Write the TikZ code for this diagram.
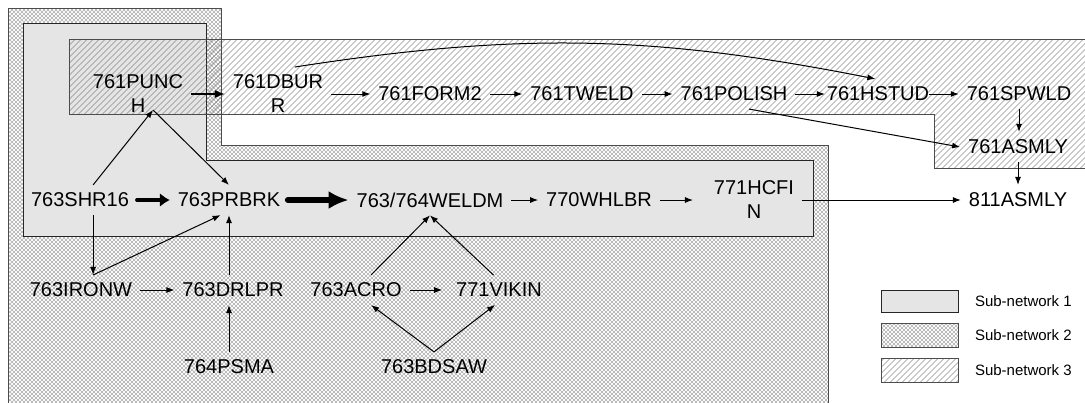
\documentclass[tikz,border=0pt]{standalone}
\usepackage{fontspec}
\setmainfont{Liberation Sans}
\usetikzlibrary{arrows.meta,patterns.meta}
\begin{document}
\begin{tikzpicture}[x=0.5pt,y=-0.5pt,
  font=\fontsize{10}{12}\selectfont,
  every node/.style={inner sep=2pt,outer sep=2pt},
  link/.style={-{Latex[length=4pt,width=3pt]},line width=0.5pt},
  boldlink/.style={-{Latex[length=5pt,width=4pt]},line width=0.8pt},
  heavylink/.style={-{Latex[length=5pt,width=7pt]},line width=1.8pt,line cap=round},
  hugelink/.style={-{Latex[length=10pt,width=9pt]},line width=3.3pt,line cap=round},
  net1/.style={draw=black!85,fill=black!10,line width=0.5pt},
  net2/.style={draw=black!70,line width=0.5pt,pattern={Hatch[angle=45,distance=1.4142pt,line width=0.2pt]},pattern color=black!32},
  net3/.style={draw=black!70,line width=0.5pt,pattern={Lines[angle=45,distance=2.1213pt,line width=0.3pt]},pattern color=black!60},
  legend/.style={right,font=\fontsize{7.5}{9}\selectfont}]
\useasboundingbox (0,0) rectangle (1085,402);
\draw [net2] (8,8) -- (221,8) -- (221,145) -- (828,145) -- (828,404) -- (8,404) -- cycle;
\draw [net1] (23,23) -- (206,23) -- (206,160) -- (813,160) -- (813,236) -- (23,236) -- cycle;
\draw [net3] (69,39) -- (1087,39) -- (1087,168) -- (934,168) -- (934,114) -- (69,114) -- cycle;

\node (punch) at (138,94) [align=center] {761PUNC\\H};
\node (dburr) at (278,94) [align=center] {761DBUR\\R};
\node (form) at (430,94) {761FORM2};
\node (tweld) at (582,94) {761TWELD};
\node (polish) at (734,94) {761POLISH};
\node (hstud) at (878,94) {761HSTUD};
\node (spwld) at (1019,94) {761SPWLD};
\node (asmly) at (1018,147) {761ASMLY};
\node (asm811) at (1018,200) {811ASMLY};
\node (shr) at (80,200) {763SHR16};
\node (prbrk) at (229,200) {763PRBRK};
\node (weldm) at (430,200) {763/764WELDM};
\node (whlbr) at (599,200) {770WHLBR};
\node (hcfin) at (754,200) [align=center] {771HCFI\\N};
\node (ironw) at (81,290) {763IRONW};
\node (drlpr) at (233,290) {763DRLPR};
\node (acro) at (356,290) {763ACRO};
\node (vikin) at (499,290) {771VIKIN};
\node (psma) at (229,367) {764PSMA};
\node (bdsaw) at (434,367) {763BDSAW};

\draw [boldlink] (punch) -- (dburr);
\draw [link] (dburr) -- (form);
\draw [link] (form) -- (tweld);
\draw [link] (tweld) -- (polish);
\draw [link, shorten >=-3pt] (polish) -- (hstud);
\draw [link, shorten <=-4pt] (hstud) -- (spwld);
\draw [link] (dburr.58) to [bend left=10] (hstud.100);
\draw [link] (polish.-45) -- (asmly.west);
\draw [link] (spwld.south) -- (spwld.south |- asmly.north);
\draw [link] (asmly.south) -- (asmly.south |- asm811.north);
\draw [link] (hcfin) -- (asm811);
\draw [heavylink] (shr) -- (prbrk);
\draw [hugelink] (prbrk) -- (weldm);
\draw [link] (weldm) -- (whlbr);
\draw [link, shorten >=6.5pt] (whlbr) -- (hcfin);
\draw [link] (shr.49) -- ([xshift=7.5pt,yshift=5.5pt]punch.south);
\draw [link] ([xshift=7.5pt,yshift=5.5pt]punch.south) -- (prbrk.north);
\draw [link] (shr.-49) -- (shr.-49 |- ironw.north);
\draw [link] (ironw.51) -- (prbrk.-119);
\draw [link] (ironw) -- (drlpr);
\draw [link] (drlpr.north -| psma.north) -- (prbrk.south -| psma.north);
\draw [link] (psma.north) -- (psma.north |- drlpr.south);
\draw [link] (acro.45) -- (weldm.south);
\draw [link] (vikin.110) -- (weldm.south);
\draw [link, shorten >=3pt] (acro) -- (vikin);
\draw [link] (bdsaw.north) -- (acro.-45);
\draw [link] (bdsaw.north) -- (vikin.-105);

\draw [net1] (881,290) rectangle (958,312);
\draw [net2] (881,323) rectangle (958,347);
\draw [net3] (881,358) rectangle (958,382);
\node (key1) [legend] at (967,301) {Sub-network 1};
\node (key2) [legend] at (967,335) {Sub-network 2};
\node (key3) [legend] at (967,370) {Sub-network 3};
\end{tikzpicture}
\end{document}
